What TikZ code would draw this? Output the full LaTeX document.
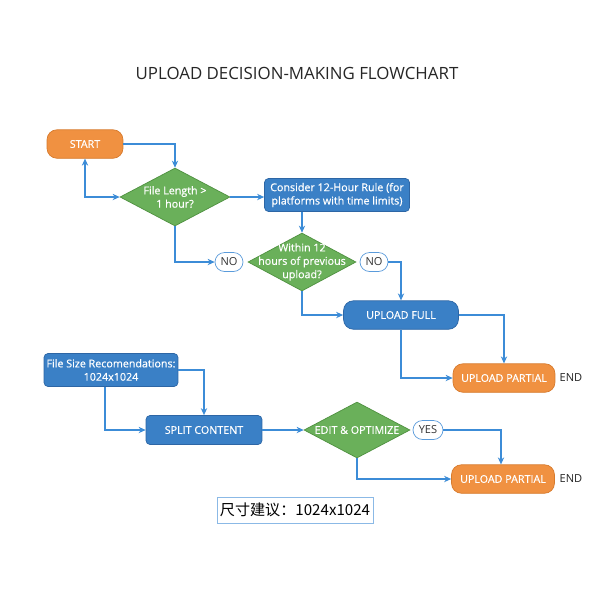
\documentclass[tikz,border=0pt]{standalone}
\usepackage{fontspec}
\setmainfont{Open Sans}
\newfontface\semibold{Open Sans}[FakeBold = 0.6]
\newfontfamily\cjkfont{Noto Sans CJK SC}
\usetikzlibrary{shapes.geometric, arrows.meta}

\definecolor{startorange}{HTML}{F09141}
\definecolor{startorangeline}{HTML}{D77A2C}
\definecolor{checkgreen}{HTML}{6AB05A}
\definecolor{checkgreenline}{HTML}{4F9140}
\definecolor{stepblue}{HTML}{3A80C6}
\definecolor{stepblueline}{HTML}{2D66A5}
\definecolor{flowline}{HTML}{3C8CD7}
\definecolor{pillline}{HTML}{5A9BDB}

\tikzset{
    terminal/.style = {draw = startorangeline, fill = startorange, rounded corners = 0.2cm, text = white,
        minimum height = 0.57cm, inner sep = 0pt, font = \semibold\fontsize{6.1}{7.5}\selectfont},
    process/.style = {draw = stepblueline, fill = stepblue, text = white, inner sep = 0pt,
        font = \semibold\fontsize{6.1}{7.6}\selectfont, align = center},
    decision/.style = {diamond, draw = checkgreenline, fill = checkgreen, inner sep = 0pt},
    decisiontext/.style = {text = white, align = center, inner sep = 0pt, font = \semibold\fontsize{6.1}{7.6}\selectfont},
    pill/.style = {draw = pillline, fill = white, rounded corners = 0.19cm, minimum width = 0.56cm,
        minimum height = 0.38cm, inner sep = 0pt, text = black!80, font = \fontsize{6.3}{7.5}\selectfont},
    flow/.style = {draw = flowline, line width = 0.7pt, -{Stealth[length = 4pt, width = 3.6pt]}}
}

\begin{document}
\begin{tikzpicture}[x = 0.02cm, y = -0.02cm]
    \useasboundingbox[fill = white] (0, 0) rectangle (600, 600);
    \node (title) at (297, 73) {\fontsize{9.6}{11}\selectfont\color{black!85}UPLOAD DECISION-MAKING FLOWCHART};

    \node[terminal, minimum width = 1.52cm] (start) at (85, 144) {START};
    \node[decision, minimum width = 2.2cm, minimum height = 1.16cm] (lengthcheck) at (175, 197) {};
        \node[decisiontext] (lengthtext) at (lengthcheck.center) {File Length >\\1 hour?};
    \node[process, rounded corners = 0.08cm, minimum width = 2.9cm, minimum height = 0.66cm] (rule) at (337, 195)
        {Consider 12-Hour Rule (for\\platforms with time limits)};
    \node[pill] (noleft) at (229, 262) {NO};
    \node[decision, minimum width = 2.16cm, minimum height = 1.16cm] (withincheck) at (302, 262) {};
        \node[decisiontext] (withintext) at (withincheck.center) {Within 12\\hours of previous\\upload?};
    \node[pill] (noright) at (374, 262) {NO};
    \node[terminal, draw = stepblueline, fill = stepblue, minimum width = 2.3cm] (full) at (401, 315) {UPLOAD FULL};
    \node[terminal, minimum width = 2.04cm] (partialtop) at (504, 378) {UPLOAD PARTIAL};
    \node[font = \fontsize{6.3}{7.5}\selectfont, text = black!85] (endtop) at (571, 378) {END};

    \node[process, rounded corners = 0.08cm, minimum width = 2.68cm, minimum height = 0.66cm] (sizebox) at (111, 370)
        {File Size Recomendations:\\1024x1024};
    \node[process, rounded corners = 0.08cm, minimum width = 2.32cm, minimum height = 0.58cm] (split) at (204, 430) {SPLIT CONTENT};
    \node[decision, minimum width = 2.12cm, minimum height = 1.12cm] (editcheck) at (357, 430) {};
        \node[decisiontext] (edittext) at (editcheck.center) {EDIT \& OPTIMIZE};
    \node[pill, minimum width = 0.6cm] (yes) at (428, 430) {YES};
    \node[terminal, minimum width = 2.06cm] (partialbottom) at (503, 479) {UPLOAD PARTIAL};
    \node[font = \fontsize{6.3}{7.5}\selectfont, text = black!85] (endbottom) at (571, 479) {END};

    \node[draw = pillline!70, fill = white, minimum width = 3.12cm, minimum height = 0.52cm, inner sep = 0pt] (cjknote) at (295, 510)
        {\cjkfont\fontsize{8.6}{10}\selectfont 尺寸建议：1024x1024};

    \draw[flow] (start.east) -| (lengthcheck.north);
    \draw[flow, {Stealth[length = 4pt, width = 3.6pt]}-{Stealth[length = 4pt, width = 3.6pt]}]
        (start.south) |- (lengthcheck.west);
    \draw[flow] (lengthcheck.east) -- (lengthcheck.east -| rule.west);
    \draw[flow] (lengthcheck.south) |- (noleft.west);
    \draw[flow] (withincheck.north |- rule.south) -- (withincheck.north);
    \draw[flow] (noright.east) -| (full.north);
    \draw[flow] (withincheck.south) |- (full.west);
    \draw[flow] (full.east) -| (partialtop.north);
    \draw[flow] (full.south) |- (partialtop.west);
    \draw[flow] (sizebox.east) -| (split.north);
    \draw[flow] ([xshift = -0.12cm]sizebox.south) |- (split.west);
    \draw[flow] (split.east) -- (editcheck.west);
    \draw[flow] (yes.east) -| ([xshift = -0.04cm]partialbottom.north);
    \draw[flow] (editcheck.south) |- (partialbottom.west);
\end{tikzpicture}
\end{document}
